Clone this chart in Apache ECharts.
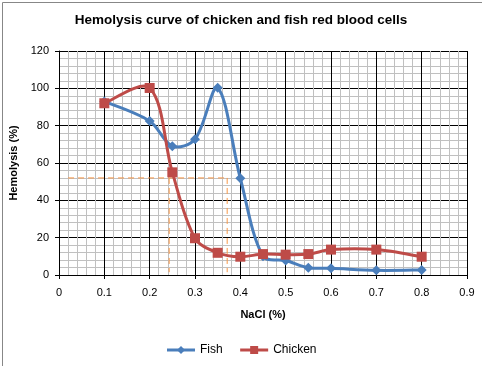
<!DOCTYPE html>
<html>
<head>
<meta charset="utf-8">
<script src="https://cdn.jsdelivr.net/npm/echarts@6/dist/echarts.min.js"></script>
<style>
html,body{margin:0;padding:0;background:#fff;}
#c{width:482px;height:366px;}
</style>
</head>
<body>
<div id="c"></div>
<script>
var nacl = [0.1, 0.2, 0.25, 0.3, 0.35, 0.4, 0.45, 0.5, 0.55, 0.6, 0.7, 0.8];
var fish = [93, 82.5, 69, 72.7, 100.3, 51.8, 10, 7.8, 3.9, 3.6, 2.5, 2.7];
var chicken = [92, 100.2, 55, 19.7, 11.9, 9.8, 11.2, 10.9, 11.2, 13.6, 13.6, 9.8];
var refH = [[0.02, 52], [0.371, 52]];
var refV1 = [[0.243, 52], [0.243, 1.5]];
var refV2 = [[0.371, 52], [0.371, 1.5]];
var xTicks = [0, 0.1, 0.2, 0.3, 0.4, 0.5, 0.6, 0.7, 0.8, 0.9];
var yTicks = [0, 20, 40, 60, 80, 100, 120];

var FISH_COLOR = '#4a7ebb';
var CHICKEN_COLOR = '#be4b48';

function pairs(xs, ys) { return xs.map(function (x, i) { return [x, ys[i]]; }); }

function dist(a, b) { return Math.sqrt((a[0] - b[0]) * (a[0] - b[0]) + (a[1] - b[1]) * (a[1] - b[1])); }

// Smoothed line (Bezier, tangent weighted by neighbouring segment lengths) drawn through the axis scales
function smoothRenderer(xs, ys, color) {
  return function (params, api) {
    var i = params.dataIndex;
    var n = xs.length;
    if (i >= n - 1) return null;
    var p0 = api.coord([xs[Math.max(i - 1, 0)], ys[Math.max(i - 1, 0)]]);
    var p1 = api.coord([xs[i], ys[i]]);
    var p2 = api.coord([xs[i + 1], ys[i + 1]]);
    var p3 = api.coord([xs[Math.min(i + 2, n - 1)], ys[Math.min(i + 2, n - 1)]]);
    var d01 = dist(p0, p1), d12 = dist(p1, p2), d23 = dist(p2, p3);
    var f1 = (i === 0) ? 1 / 6 : (1 / 3) * d12 / (d01 + d12);
    var f2 = (i + 2 > n - 1) ? 1 / 6 : (1 / 3) * d12 / (d12 + d23);
    var c1 = [p1[0] + (p2[0] - p0[0]) * f1, p1[1] + (p2[1] - p0[1]) * f1];
    var c2 = [p2[0] - (p3[0] - p1[0]) * f2, p2[1] - (p3[1] - p1[1]) * f2];
    return {
      type: 'bezierCurve',
      shape: {x1: p1[0], y1: p1[1], cpx1: c1[0], cpy1: c1[1], cpx2: c2[0], cpy2: c2[1], x2: p2[0], y2: p2[1]},
      style: {stroke: color, lineWidth: 3, fill: null, lineCap: 'round'}
    };
  };
}

var font = 'Liberation Sans, Arial, sans-serif';
var chart = echarts.init(document.getElementById('c'), null, {renderer: 'canvas'});
var dashStyle = {color: '#f79646', width: 1, type: [6, 4]};
chart.setOption({
  animation: false,
  backgroundColor: '#fff',
  graphic: [{
    type: 'rect', left: 0, top: 0, z: -10,
    shape: {x: 0.5, y: 0.5, width: 481, height: 365},
    style: {fill: 'none', stroke: '#878787', lineWidth: 1}
  }],
  title: {
    text: 'Hemolysis curve of chicken and fish red blood cells',
    left: 'center', top: 8,
    textStyle: {fontFamily: font, fontSize: 13.5, fontWeight: 'bold', color: '#000'}
  },
  legend: {
    bottom: 5, left: 'center',
    itemWidth: 28, itemHeight: 10, itemGap: 16,
    textStyle: {fontFamily: font, fontSize: 12, color: '#000'},
    data: [
      {name: 'Fish', lineStyle: {color: FISH_COLOR, width: 3, opacity: 1}},
      {name: 'Chicken', lineStyle: {color: CHICKEN_COLOR, width: 3, opacity: 1}}
    ]
  },
  grid: {left: 59, right: 15, top: 51, bottom: 91},
  xAxis: {
    type: 'value', min: xTicks[0], max: xTicks[xTicks.length - 1], interval: 0.1,
    name: 'NaCl (%)', nameLocation: 'middle', nameGap: 34,
    nameTextStyle: {fontFamily: font, fontSize: 11, fontWeight: 'bold', color: '#000'},
    axisLine: {show: true, onZero: false, lineStyle: {color: '#000', width: 1}},
    axisTick: {show: true, length: 4, lineStyle: {color: '#000'}},
    axisLabel: {fontFamily: font, fontSize: 11, color: '#000', margin: 12,
      formatter: function (v) { return String(Math.round(v * 10) / 10); }},
    splitLine: {show: true, lineStyle: {color: '#000', width: 1}},
    minorTick: {show: false, splitNumber: 5},
    minorSplitLine: {show: true, lineStyle: {color: '#c0c0c0', width: 1}}
  },
  yAxis: {
    type: 'value', min: yTicks[0], max: yTicks[yTicks.length - 1], interval: 20,
    name: 'Hemolysis (%)', nameLocation: 'middle', nameGap: 38, nameRotate: 90,
    nameTextStyle: {fontFamily: font, fontSize: 11, fontWeight: 'bold', color: '#000'},
    axisLine: {show: true, lineStyle: {color: '#000', width: 1}},
    axisTick: {show: true, length: 4, lineStyle: {color: '#000'}},
    axisLabel: {fontFamily: font, fontSize: 11, color: '#000', margin: 10},
    splitLine: {show: true, lineStyle: {color: '#000', width: 1}},
    minorTick: {show: false, splitNumber: 5},
    minorSplitLine: {show: true, lineStyle: {color: '#c0c0c0', width: 1}}
  },
  series: [
    {name: 'ref1', type: 'line', data: refH, symbol: 'none', lineStyle: dashStyle, z: 1, silent: true},
    {name: 'ref2', type: 'line', data: refV1, symbol: 'none', lineStyle: dashStyle, z: 1, silent: true},
    {name: 'ref3', type: 'line', data: refV2, symbol: 'none', lineStyle: dashStyle, z: 1, silent: true},
    {
      name: 'FishCurve', type: 'custom', data: pairs(nacl, fish), z: 3, silent: true,
      encode: {x: 0, y: 1},
      renderItem: smoothRenderer(nacl, fish, FISH_COLOR)
    },
    {
      name: 'ChickenCurve', type: 'custom', data: pairs(nacl, chicken), z: 4, silent: true,
      encode: {x: 0, y: 1},
      renderItem: smoothRenderer(nacl, chicken, CHICKEN_COLOR)
    },
    {
      name: 'Fish', type: 'line', data: pairs(nacl, fish),
      symbol: 'diamond', symbolSize: 10, showAllSymbol: true,
      lineStyle: {color: FISH_COLOR, width: 3, opacity: 0},
      itemStyle: {color: FISH_COLOR}, z: 5
    },
    {
      name: 'Chicken', type: 'line', data: pairs(nacl, chicken),
      symbol: 'rect', symbolSize: 10, showAllSymbol: true,
      lineStyle: {color: CHICKEN_COLOR, width: 3, opacity: 0},
      itemStyle: {color: CHICKEN_COLOR}, z: 6
    }
  ]
});
</script>
</body>
</html>
